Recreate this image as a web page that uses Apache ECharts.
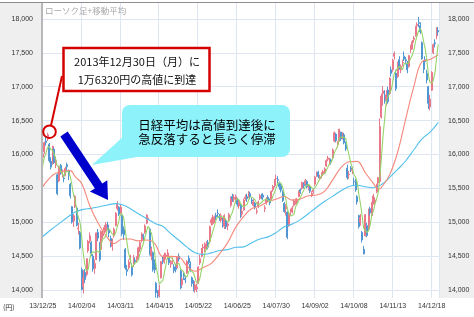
<!DOCTYPE html>
<html><head><meta charset="utf-8">
<script src="https://cdn.jsdelivr.net/npm/echarts@6/dist/echarts.min.js"></script>
<style>html,body{margin:0;padding:0;background:#fff;}#c{width:474px;height:317px;}</style>
</head><body><div id="c"></div>
<script>
const dates = [
'13/12/25','13/12/26','13/12/27','13/12/30',
'14/01/06','14/01/07','14/01/08','14/01/09','14/01/10','14/01/14','14/01/15','14/01/16','14/01/17','14/01/20','14/01/21','14/01/22','14/01/23','14/01/24','14/01/27','14/01/28','14/01/29','14/01/30','14/01/31',
'14/02/03','14/02/04','14/02/05','14/02/06','14/02/07','14/02/10','14/02/12','14/02/13','14/02/14','14/02/17','14/02/18','14/02/19','14/02/20','14/02/21','14/02/24','14/02/25','14/02/26','14/02/27','14/02/28',
'14/03/03','14/03/04','14/03/05','14/03/06','14/03/07','14/03/10','14/03/11','14/03/12','14/03/13','14/03/14','14/03/17','14/03/18','14/03/19','14/03/20','14/03/24','14/03/25','14/03/26','14/03/27','14/03/28','14/03/31',
'14/04/01','14/04/02','14/04/03','14/04/04','14/04/07','14/04/08','14/04/09','14/04/10','14/04/11','14/04/14','14/04/15','14/04/16','14/04/17','14/04/18','14/04/21','14/04/22','14/04/23','14/04/24','14/04/25','14/04/28','14/04/30',
'14/05/01','14/05/02','14/05/07','14/05/08','14/05/09','14/05/12','14/05/13','14/05/14','14/05/15','14/05/16','14/05/19','14/05/20','14/05/21','14/05/22','14/05/23','14/05/26','14/05/27','14/05/28','14/05/29','14/05/30',
'14/06/02','14/06/03','14/06/04','14/06/05','14/06/06','14/06/09','14/06/10','14/06/11','14/06/12','14/06/13','14/06/16','14/06/17','14/06/18','14/06/19','14/06/20','14/06/23','14/06/24','14/06/25','14/06/26','14/06/27','14/06/30',
'14/07/01','14/07/02','14/07/03','14/07/04','14/07/07','14/07/08','14/07/09','14/07/10','14/07/11','14/07/14','14/07/15','14/07/16','14/07/17','14/07/18','14/07/22','14/07/23','14/07/24','14/07/25','14/07/28','14/07/29','14/07/30','14/07/31',
'14/08/01','14/08/04','14/08/05','14/08/06','14/08/07','14/08/08','14/08/11','14/08/12','14/08/13','14/08/14','14/08/15','14/08/18','14/08/19','14/08/20','14/08/21','14/08/22','14/08/25','14/08/26','14/08/27','14/08/28','14/08/29',
'14/09/01','14/09/02','14/09/03','14/09/04','14/09/05','14/09/08','14/09/09','14/09/10','14/09/11','14/09/12','14/09/16','14/09/17','14/09/18','14/09/19','14/09/22','14/09/24','14/09/25','14/09/26','14/09/29','14/09/30',
'14/10/01','14/10/02','14/10/03','14/10/06','14/10/07','14/10/08','14/10/09','14/10/10','14/10/14','14/10/15','14/10/16','14/10/17','14/10/20','14/10/21','14/10/22','14/10/23','14/10/24','14/10/27','14/10/28','14/10/29','14/10/30','14/10/31',
'14/11/04','14/11/05','14/11/06','14/11/07','14/11/10','14/11/11','14/11/12','14/11/13','14/11/14','14/11/17','14/11/18','14/11/19','14/11/20','14/11/21','14/11/25','14/11/26','14/11/27','14/11/28',
'14/12/01','14/12/02','14/12/03','14/12/04','14/12/05','14/12/08','14/12/09','14/12/10','14/12/11','14/12/12','14/12/15','14/12/16','14/12/17','14/12/18','14/12/19','14/12/22','14/12/24','14/12/25'
];

const opens = [
15960,16040,16200,16230,16150,15900,15870,16080,15850,15700,
15610,15840,15720,15650,15690,15850,15760,15560,15230,15020,
15230,15210,14900,14850,14300,14050,14260,14230,14580,14720,
14700,14500,14320,14450,14850,14700,14600,14800,14880,14870,
14960,14880,14760,14640,14800,14950,15200,15220,15130,15100,
14900,14600,14300,14330,14450,14350,14380,14440,14450,14460,
14600,14740,14800,14850,15000,15040,14900,14500,14550,14400,
14100,13950,13920,14180,14450,14420,14500,14480,14470,14380,
14420,14340,14350,14330,14500,14280,14080,14220,14170,14250,
14470,14380,14180,14120,14000,14020,14100,14400,14500,14620,
14600,14640,14700,14720,14990,14980,15050,15100,15130,15080,
15030,15050,14940,15020,14950,15050,15250,15380,15340,15320,
15330,15240,15250,15120,15180,15350,15380,15380,15420,15330,
15250,15280,15150,15230,15350,15380,15400,15200,15280,15370,
15320,15330,15480,15540,15640,15630,15570,15540,15450,15280,
15200,15150,14950,15160,15150,15250,15290,15300,15380,15480,
15500,15560,15570,15600,15500,15520,15400,15450,15560,15700,
15740,15640,15700,15720,15730,15830,15930,15900,15920,15950,
16200,16300,16150,16200,16330,16250,16290,16150,15800,15700,
15800,15760,15600,15600,15380,15100,15000,14850,14600,14800,
14950,14900,15200,15100,15280,15300,15450,15580,15600,16550,
16900,16850,16800,16950,16900,17250,17250,17450,17200,17150,
17400,17250,17350,17450,17400,17350,17300,17550,17580,17700,
17750,17900,17950,17900,17650,17300,17400,17200,17000,16700,
16950,17500,17650,17750,17830
];
const closes = [
16009,16174,16178,16291,15908,15814,16121,15880,15912,15422,
15808,15747,15734,15641,15795,15820,15695,15391,15005,15095,
15383,14956,14914,14619,14008,14180,14155,14462,14718,14800,
14534,14313,14393,14843,14766,14449,14865,14837,14924,14970,
14923,14841,14652,14721,14897,15134,15274,15120,15224,14830,
14815,14327,14277,14411,14462,14224,14475,14423,14477,14622,
14696,14827,14791,14946,15071,15063,14528,14606,14299,14300,
13960,13910,14000,14418,14417,14516,14512,14546,14404,14404,
14429,14288,14304,14485,14457,14033,14163,14199,14149,14425,
14405,14298,14097,14006,14075,14042,14337,14462,14602,14636,
14670,14681,14632,14935,15034,15079,15069,15077,15124,15069,
15098,14973,15097,14933,14975,15115,15361,15349,15369,15376,
15266,15308,15095,15162,15326,15369,15348,15437,15379,15314,
15302,15216,15164,15297,15395,15379,15370,15215,15343,15328,
15284,15457,15529,15618,15646,15620,15523,15474,15320,15159,
15232,14778,15130,15161,15213,15314,15318,15322,15449,15454,
15586,15539,15613,15521,15534,15459,15424,15476,15668,15728,
15676,15668,15705,15749,15788,15909,15948,15911,15888,16067,
16321,16205,16167,16374,16229,16310,16173,16082,15661,15708,
15783,15783,15595,15478,15300,14936,15073,14738,14532,15111,
14804,15195,15138,15291,15388,15329,15553,15658,16413,16862,
16937,16792,16880,16780,17124,17197,17392,17490,16973,17344,
17288,17300,17357,17407,17383,17248,17459,17590,17663,17720,
17887,17920,17935,17813,17412,17257,17371,17099,16755,16819,
17210,17621,17635,17854,17808
];
const lows = [
15920,16010,16130,16200,15880,15780,15850,15860,15800,15400,
15590,15700,15660,15590,15680,15760,15620,15350,14980,14930,
15210,14940,14820,14600,13995,13950,14100,14200,14550,14690,
14500,14270,14240,14440,14720,14420,14580,14760,14840,14850,
14880,14780,14630,14580,14770,14940,15170,15090,15100,14800,
14740,14300,14210,14300,14390,14200,14340,14380,14400,14440,
14560,14700,14720,14830,14970,14980,14510,14440,14270,14250,
13890,13880,13890,14170,14380,14390,14450,14450,14370,14330,
14380,14250,14260,14320,14420,14010,14050,14150,14100,14240,
14380,14270,14050,13980,13960,13970,14090,14370,14480,14580,
14560,14600,14600,14700,14950,14960,14990,15030,15080,15020,
15000,14920,14900,14900,14880,15020,15220,15300,15300,15280,
15230,15200,15060,15080,15170,15320,15300,15360,15340,15270,
15230,15190,15120,15210,15330,15340,15330,15150,15260,15300,
15250,15320,15450,15510,15590,15570,15480,15440,15300,15140,
15100,14750,14930,15100,15130,15230,15260,15270,15370,15420,
15480,15500,15540,15500,15470,15430,15370,15420,15540,15670,
15650,15620,15650,15680,15710,15820,15900,15860,15850,15940,
16180,16180,16100,16190,16200,16220,16150,16050,15630,15640,
15740,15710,15540,15450,15260,14910,14950,14700,14529,14790,
14780,14880,15100,15080,15260,15250,15430,15540,15580,16530,
16720,16750,16720,16750,16880,17150,17220,17400,16940,17130,
17250,17200,17300,17380,17330,17200,17280,17500,17550,17650,
17740,17850,17880,17780,17400,17200,17300,17050,16672,16650,
16940,17480,17580,17700,17760
];
const highs = [
16060,16190,16260,16320,16170,15960,16130,16100,15970,15720,
15830,15860,15780,15700,15820,15880,15780,15580,15240,15120,
15400,15240,14990,14870,14330,14290,14310,14470,14740,14850,
14720,14530,14450,14850,14900,14710,14880,14880,14960,15000,
15010,14920,14800,14760,14920,15150,15310,15240,15260,15110,
14940,14620,14370,14450,14520,14390,14520,14480,14500,14640,
14730,14850,14830,14970,15120,15110,14920,14640,14570,14450,
14120,14000,14080,14430,14500,14550,14550,14600,14500,14440,
14480,14380,14390,14500,14540,14300,14190,14260,14210,14440,
14510,14420,14200,14150,14130,14090,14350,14520,14620,14680,
14700,14720,14740,14950,15070,15110,15100,15140,15190,15120,
15130,15080,15120,15050,15000,15140,15380,15420,15410,15410,
15360,15340,15270,15200,15350,15410,15420,15460,15450,15360,
15340,15300,15210,15320,15420,15420,15430,15250,15370,15400,
15350,15470,15550,15640,15700,15680,15600,15570,15470,15300,
15270,15160,15150,15200,15240,15340,15350,15360,15470,15500,
15600,15590,15640,15620,15560,15540,15460,15500,15680,15750,
15760,15700,15740,15770,15810,15930,15980,15950,15940,16090,
16340,16320,16200,16380,16340,16330,16320,16190,15850,15760,
15830,15820,15660,15640,15400,15110,15120,14870,14650,15120,
14990,15200,15230,15300,15420,15370,15570,15670,16533,16900,
17010,16950,16950,17000,17140,17300,17410,17520,17250,17370,
17450,17330,17400,17520,17440,17380,17470,17620,17690,17750,
17900,17950,18030,17950,17670,17380,17450,17250,17010,16880,
17230,17640,17700,17880,17880
];
// 5-day moving average (one value per day)
const ma5 = [
15843,15960,16024,16108,16112,16073,16062,16003,15927,15830,
15829,15754,15725,15670,15745,15747,15737,15668,15541,15401,
15314,15166,15071,14993,14776,14535,14375,14285,14305,14463,
14534,14565,14552,14577,14570,14553,14663,14752,14768,14809,
14904,14899,14862,14821,14807,14849,14936,15029,15130,15116,
15053,14863,14695,14532,14458,14340,14370,14399,14412,14444,
14539,14609,14683,14776,14866,14940,14880,14843,14713,14559,
14339,14215,14094,14118,14141,14252,14373,14482,14479,14476,
14459,14414,14366,14382,14393,14313,14288,14267,14200,14194,
14268,14295,14275,14246,14176,14104,14111,14184,14304,14416,
14541,14610,14644,14711,14790,14872,14950,15039,15077,15084,
15087,15068,15072,15034,15015,15019,15096,15147,15234,15314,
15344,15334,15283,15241,15231,15252,15260,15328,15372,15369,
15356,15330,15275,15259,15275,15290,15321,15331,15340,15327,
15308,15325,15388,15443,15507,15574,15587,15576,15517,15419,
15342,15193,15124,15092,15103,15119,15227,15266,15323,15371,
15426,15470,15528,15543,15559,15533,15510,15483,15512,15551,
15594,15643,15689,15705,15717,15764,15820,15861,15889,15945,
16027,16078,16130,16227,16259,16257,16251,16234,16091,15987,
15881,15803,15706,15669,15588,15418,15276,15105,14916,14878,
14852,14876,14956,15108,15163,15268,15340,15444,15668,15963,
16285,16532,16777,16850,16903,16955,17075,17197,17235,17279,
17297,17279,17252,17339,17347,17339,17371,17417,17469,17536,
17664,17756,17825,17855,17793,17667,17558,17390,17179,17060,
17051,17101,17208,17428,17626
];
// 25-day moving average, [day index, value]
const ma25 = [[0,15525],[4,15648],[8,15722],[13,15757],[17,15762],[20,15673],[24,15573],[29,15243],[34,14991],[39,14804],[44,14685],[49,14753],[54,14752],[59,14727],[64,14738],[69,14689],[74,14494],[79,14497],[84,14487],[89,14353],[94,14276],[99,14331],[104,14394],[109,14532],[114,14696],[119,14924],[124,15087],[129,15203],[134,15241],[139,15303],[144,15342],[149,15379],[154,15326],[159,15345],[164,15392],[169,15401],[174,15460],[179,15629],[184,15806],[189,15892],[194,15899],[199,15731],[204,15575],[207,15489],[209,15516],[214,15699],[219,16037],[224,16531],[229,17006],[234,17372],[239,17403],[244,17472]];
// 75-day moving average, [day index, value]
const ma75 = [[0,14790],[5,14890],[10,14980],[15,15070],[20,15150],[25,15190],[30,15205],[35,15230],[40,15255],[45,15275],[50,15250],[55,15185],[60,15110],[65,15040],[70,14975],[74,14940],[79,14831],[84,14735],[89,14632],[94,14550],[99,14526],[104,14548],[109,14582],[114,14596],[119,14630],[124,14637],[129,14698],[134,14753],[139,14784],[144,14847],[149,14932],[154,14974],[159,15039],[164,15130],[169,15222],[174,15309],[179,15386],[184,15464],[189,15529],[194,15547],[199,15524],[204,15510],[209,15556],[214,15661],[219,15779],[224,15908],[229,16070],[234,16231],[239,16331],[244,16470]];

const candles = opens.map((o, i) => [o, closes[i], lows[i], highs[i]]);
const JP = '"Noto Sans CJK JP", sans-serif';
const NUM = 'Arial, "Liberation Sans", sans-serif';
const fmt = v => v.toLocaleString('en-US');

const chart = echarts.init(document.getElementById('c'), null, {renderer: 'canvas'});
chart.setOption({
  animation: false,
  backgroundColor: '#ffffff',
  grid: {left: 42, right: 35, top: 3, bottom: 19, containLabel: false},
  xAxis: {
    type: 'category', data: dates, boundaryGap: true,
    axisLine: {show: false}, axisTick: {show: false},
    axisLabel: {interval: 23, fontSize: 7, color: '#333', margin: 5, fontFamily: NUM},
    splitLine: {show: true, interval: 23, lineStyle: {color: '#dfe6f3', width: 1}}
  },
  yAxis: [
    {type: 'value', position: 'left', min: 13882, max: 18236, minInterval: 500, maxInterval: 500,
     axisLine: {show: false}, axisTick: {show: false},
     axisLabel: {fontSize: 7, color: '#333', margin: 9, formatter: fmt, showMinLabel: false, showMaxLabel: false, fontFamily: NUM},
     splitLine: {show: true, showMinLine: false, showMaxLine: false, lineStyle: {color: '#dfe6f3', width: 1}}},
    {type: 'value', position: 'right', min: 13882, max: 18236, minInterval: 500, maxInterval: 500,
     axisLine: {show: false}, axisTick: {show: false},
     axisLabel: {fontSize: 7, color: '#333', margin: 9, formatter: fmt, showMinLabel: false, showMaxLabel: false, fontFamily: NUM},
     splitLine: {show: false}}
  ],
  series: [
    {type: 'candlestick', data: candles, barWidth: 1.5, silent: true,
     itemStyle: {color: '#e8788a', color0: '#5096d2', borderColor: '#e8788a', borderColor0: '#5096d2', borderWidth: 1}},
    {type: 'line', data: ma75, smooth: 0.4, showSymbol: false, silent: true, z: 3,
     lineStyle: {color: '#52c0ec', width: 1.1}},
    {type: 'line', data: ma25, smooth: 0.4, showSymbol: false, silent: true, z: 3,
     lineStyle: {color: '#f5887a', width: 1.1}},
    {type: 'line', data: ma5, smooth: 0.2, showSymbol: false, silent: true, z: 4,
     lineStyle: {color: '#96d46a', width: 1.1}}
  ],
  graphic: [
    {type: 'rect', z: -10, shape: {x: 0, y: 3, width: 42, height: 295}, style: {fill: '#efefef'}},
    {type: 'rect', z: -10, shape: {x: 439, y: 3, width: 35, height: 295}, style: {fill: '#efefef'}},
    {type: 'line', z: 5, shape: {x1: 0, y1: 2.5, x2: 474, y2: 2.5}, style: {stroke: '#8f8f8f', lineWidth: 1}},
    {type: 'line', z: 5, shape: {x1: 42, y1: 3, x2: 42, y2: 298}, style: {stroke: '#b8b8b8', lineWidth: 2}},
    {type: 'text', z: 5, style: {text: 'ローソク足+移動平均', x: 45, y: 11, fontSize: 8.5, fill: '#a8a8a8', verticalAlign: 'middle', fontFamily: JP}},
    {type: 'text', z: 5, style: {text: '(円)', x: 3, y: 307, fontSize: 7, fill: '#333', verticalAlign: 'middle', fontFamily: JP}},
    // red callout
    {type: 'line', z: 20, shape: {x1: 62, y1: 76, x2: 51, y2: 125.5}, style: {stroke: '#d40000', lineWidth: 2}},
    {type: 'circle', z: 20, shape: {cx: 49.5, cy: 131.7, r: 6.3}, style: {fill: 'none', stroke: '#d40000', lineWidth: 2}},
    {type: 'rect', z: 20, shape: {x: 63.5, y: 48, width: 146, height: 43}, style: {fill: '#fff', stroke: '#d40000', lineWidth: 2.5}},
    {type: 'text', z: 21, style: {text: '2013年12月30日（月）に', x: 137, y: 62, fontSize: 11, fill: '#111', align: 'center', verticalAlign: 'middle', fontFamily: JP}},
    {type: 'text', z: 21, style: {text: '1万6320円の高値に到達', x: 137, y: 80, fontSize: 11, fill: '#111', align: 'center', verticalAlign: 'middle', fontFamily: JP}},
    // blue arrow
    {type: 'polygon', z: 20, shape: {points: [[67.7,131.5],[102.3,183.4],[107.3,180.2],[108,200],[89.9,191.6],[94.9,188.4],[60.3,136.5]]}, style: {fill: '#0000cc'}},
    // cyan bubble
    {type: 'polygon', z: 20, shape: {points: [[124,136],[137,157],[92,165]]}, style: {fill: '#8ef2fb'}},
    {type: 'rect', z: 20, shape: {x: 122, y: 105, width: 168, height: 52, r: 8}, style: {fill: '#8ef2fb'}},
    {type: 'text', z: 21, style: {text: '日経平均は高値到達後に', x: 207, y: 125, fontSize: 12.5, fill: '#000', align: 'center', verticalAlign: 'middle', fontFamily: JP}},
    {type: 'text', z: 21, style: {text: '急反落すると長らく停滞', x: 207, y: 139.5, fontSize: 12.5, fill: '#000', align: 'center', verticalAlign: 'middle', fontFamily: JP}}
  ]
});
</script></body></html>
